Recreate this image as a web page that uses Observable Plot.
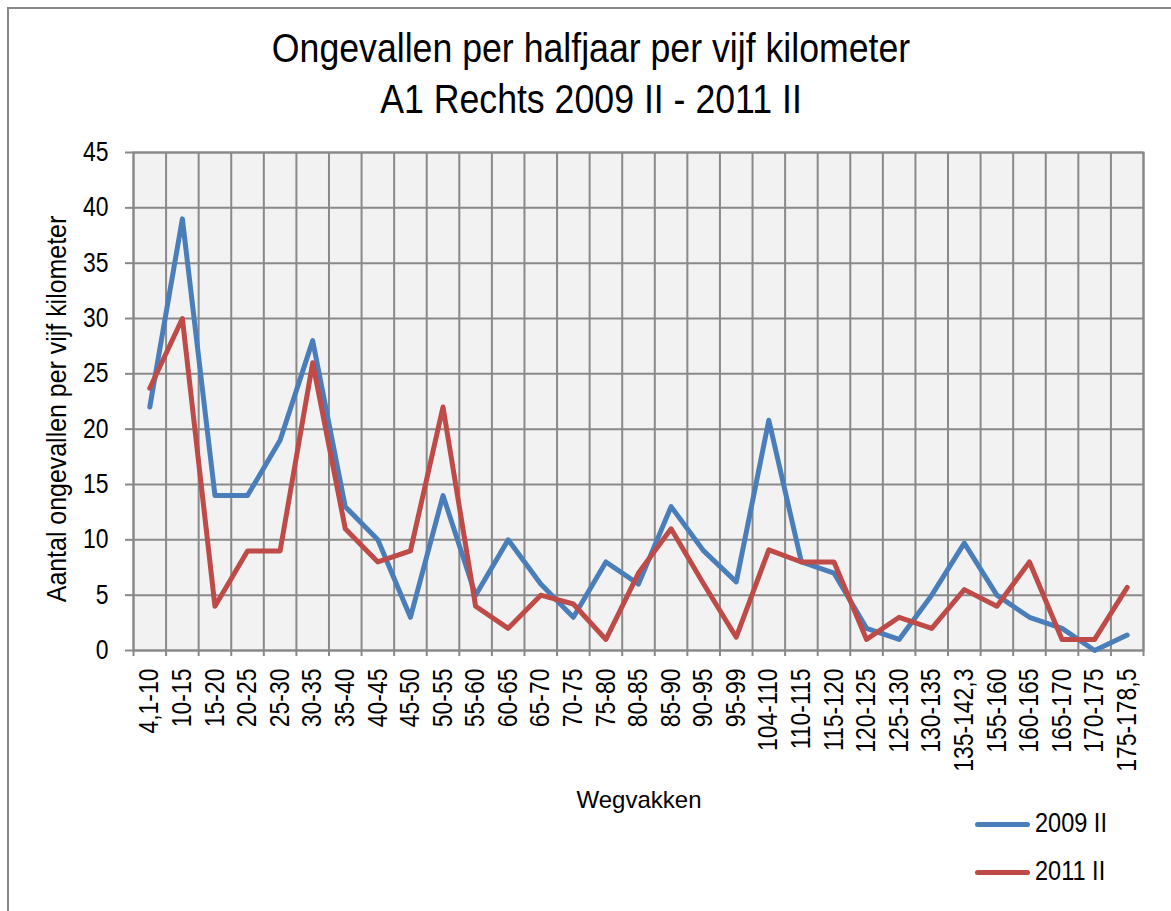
<!DOCTYPE html>
<html><head><meta charset="utf-8">
<script src="https://cdn.jsdelivr.net/npm/d3@7"></script>
<script src="https://cdn.jsdelivr.net/npm/@observablehq/plot@0.6"></script>
<style>
body{margin:0;background:#fff;}
#wrap{position:relative;width:1171px;height:911px;overflow:hidden;font-family:"Liberation Sans",Arial,sans-serif;color:#000;}
#border{position:absolute;left:7px;top:7px;width:1200px;height:1000px;border-left:2px solid #888;border-top:2px solid #888;}
.t{position:absolute;white-space:nowrap;line-height:1;}
#chart{position:absolute;left:0;top:0;}
.leg{position:absolute;height:5px;border-radius:3px;}
</style></head><body>
<div id="wrap">
<div id="border"></div>
<div id="chart"></div>
<div class="t" id="title1" style="left:591px;top:28px;font-size:41px;transform:translateX(-50%) scaleX(0.87);">Ongevallen per halfjaar per vijf kilometer</div>
<div class="t" id="title2" style="left:591px;top:79px;font-size:41px;transform:translateX(-50%) scaleX(0.87);">A1 Rechts 2009 II - 2011 II</div>
<div class="t" id="ylab" style="left:57px;top:409px;font-size:28px;transform:translate(-50%,-50%) rotate(-90deg) scaleX(0.89);">Aantal ongevallen per vijf kilometer</div>
<div class="t" id="xlab" style="left:639px;top:788px;font-size:24px;transform:translateX(-50%);">Wegvakken</div>
<div id="legend"></div>
</div>
<script>
const categories = ["4,1-10","10-15","15-20","20-25","25-30","30-35","35-40","40-45","45-50","50-55","55-60","60-65","65-70","70-75","75-80","80-85","85-90","90-95","95-99","104-110","110-115","115-120","120-125","125-130","130-135","135-142,3","155-160","160-165","165-170","170-175","175-178,5"];
const series2009 = [22,39,14,14,19,28,13,10,3,14,5,10,6,3,8,6,13,9,6.2,20.8,8,7,2,1,5,9.7,5,3,2,0,1.4];
const series2011 = [23.7,30,4,9,9,26,11,8,9,22,4,2,5,4.2,1,7,11,6,1.2,9.1,8,8,1,3,2,5.5,4,8,1,1,5.7];
const yTicks = [0,5,10,15,20,25,30,35,40,45];
const seriesNames = ["2009 II","2011 II"];
const seriesColors = ["#4a7ebb","#be4b48"];

const W = 1171, H = 911, mL = 133, mR = 28, mT = 152, mB = 261;
const n = categories.length;
const grid = "#898989";
const idx = categories.map((c, i) => i);
const bounds = [-0.5, ...idx.map(i => i + 0.5)];

const rows = [
  ...categories.map((c, i) => ({i, v: series2009[i], s: seriesNames[0]})),
  ...categories.map((c, i) => ({i, v: series2011[i], s: seriesNames[1]}))
];

const chart = Plot.plot({
  width: W, height: H,
  marginLeft: mL, marginRight: mR, marginTop: mT, marginBottom: mB,
  style: {fontFamily: "'Liberation Sans',Arial,sans-serif", fontSize: "27px", color: "#000", background: "transparent", overflow: "visible"},
  x: {type: "linear", domain: [-0.5, n - 0.5], label: null},
  y: {domain: [0, 45], label: null},
  color: {domain: seriesNames, range: seriesColors},
  marks: [
    Plot.frame({fill: "#f2f2f2", stroke: null}),
    Plot.gridY(yTicks, {stroke: grid, strokeOpacity: 1, strokeWidth: 2}),
    Plot.gridX(bounds, {stroke: grid, strokeOpacity: 1, strokeWidth: 2}),
    Plot.frame({stroke: grid, strokeWidth: 2}),
    Plot.axisY(yTicks, {tickSize: 8, tickPadding: 17, stroke: grid, strokeWidth: 2, fill: "#000", fontSize: 27, label: null, ariaLabel: "y-axis"}),
    Plot.axisX(bounds, {tickSize: 6, text: null, stroke: grid, strokeWidth: 2, label: null}),
    Plot.axisX(idx, {tickSize: 0, tickPadding: 18, tickRotate: -90, tickFormat: i => categories[i], fill: "#000", fontSize: 27, label: null, ariaLabel: "x-axis"}),
    Plot.line(rows, {x: "i", y: "v", z: "s", stroke: "s", strokeWidth: 5, strokeLinejoin: "round", strokeLinecap: "round"})
  ]
});
// narrow the tick labels to mimic the condensed face of the original
chart.querySelectorAll('g[aria-label="x-axis tick label"] text, g[aria-label="y-axis tick label"] text').forEach(t => {
  const tr = t.getAttribute("transform") || "";
  t.setAttribute("transform", tr + " scale(0.85,1)");
});
document.getElementById("chart").appendChild(chart);

const legend = document.getElementById("legend");
seriesNames.forEach((name, i) => {
  const ly = 824 + i * 48;
  const line = document.createElement("div");
  line.className = "leg";
  line.style.cssText = `left:975px;top:${ly - 2.5}px;width:55px;background:${seriesColors[i]};`;
  legend.appendChild(line);
  const txt = document.createElement("div");
  txt.className = "t";
  txt.style.cssText = `left:1035px;top:${ly - 15}px;font-size:28px;transform-origin:left center;transform:scaleX(0.84);`;
  txt.textContent = name;
  legend.appendChild(txt);
});
</script>
</body></html>
